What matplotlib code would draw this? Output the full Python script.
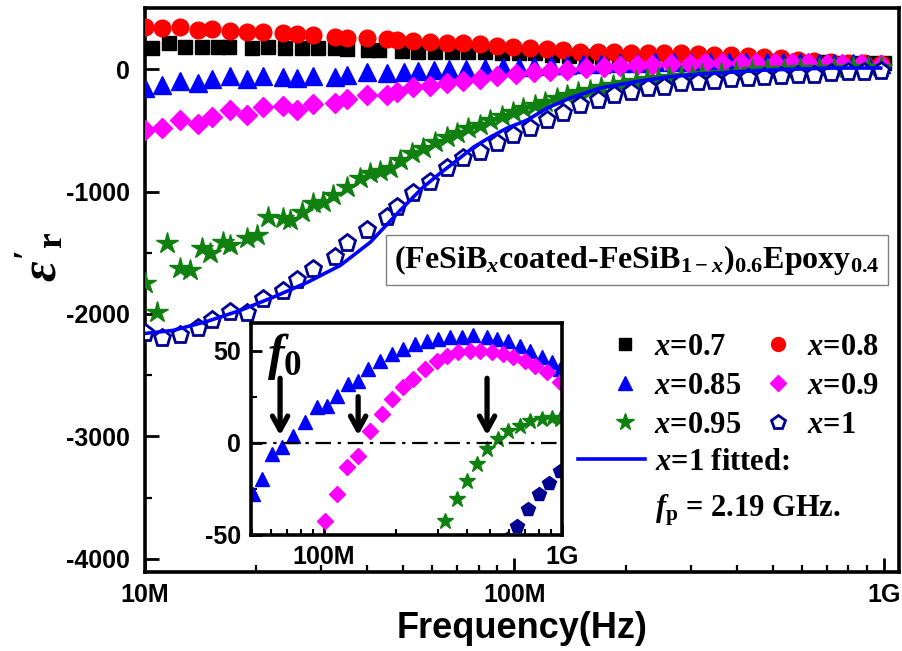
import matplotlib
matplotlib.use("Agg")
import matplotlib.pyplot as plt
from matplotlib.lines import Line2D
from matplotlib.ticker import LogLocator, NullFormatter, MultipleLocator

plt.rcParams['font.family'] = ['Liberation Sans', 'DejaVu Sans']
plt.rcParams['font.weight'] = 'bold'
plt.rcParams['axes.unicode_minus'] = False
plt.rcParams['mathtext.fontset'] = 'custom'
plt.rcParams['mathtext.rm'] = 'Liberation Serif:bold'
plt.rcParams['mathtext.it'] = 'Liberation Serif:italic:bold'
plt.rcParams['mathtext.bf'] = 'Liberation Serif:bold'

# ---- data (frequency in MHz, real permittivity) ----
freq_g1 = [10.0, 11.1, 12.4, 13.9, 15.2, 17.0, 18.9, 20.9, 23.7, 25.8, 28.5, 32.7, 35.3, 40.0, 45.3,
           48.2, 53.2, 59.2, 65.8, 72.7, 80.9, 89.9, 99.4, 110.5, 122.9, 135.8, 151.0, 167.9, 185.5,
           206.3, 229.4, 253.4, 281.8, 313.3, 346.2, 384.9, 428.0, 473.0, 525.9, 584.8, 646.2, 718.5,
           798.9, 882.8, 981.5]

freq_07 = [10.45, 11.62, 12.84, 14.27, 15.78, 16.89, 19.49, 21.54, 23.9, 26.6, 29.4, 32.7, 35.3, 40.2,
           43.1, 49.7, 55.0, 61.0, 67.9, 75.0, 83.3, 92.5, 102.6, 113.9, 126.5, 140.3, 155.8, 173.0,
           191.9, 213.0, 236.5, 262.3, 291.2, 323.3, 358.8, 398.3, 442.2, 490.5, 544.5, 604.5, 670.8,
           744.6, 826.6, 917.1, 1000.0]
eps_07 = [172, 213, 180, 180, 180, 180, 172, 180, 172, 172, 172, 172, 164, 155, 155, 147, 139, 139,
          139, 139, 139, 131, 131, 127, 114, 106, 106, 98, 98, 90, 90, 82, 82, 74, 74, 65, 65, 65, 57,
          57, 57, 49, 49, 49, 49]

freq_08 = freq_g1
eps_08 = [343, 335, 343, 319, 327, 311, 303, 303, 294, 286, 278, 262, 253, 253, 245, 237, 229, 221,
          213, 213, 204, 188, 180, 172, 164, 155, 139, 139, 139, 131, 131, 131, 131, 123, 114, 114,
          106, 98, 90, 74, 65, 57, 49, 49, 41]

freq_085 = freq_g1[:15] + [50.4, 54.9, 60.5, 66.6, 74.1, 83.2, 93.4, 103, 113, 126, 139, 153, 172,
                           193, 215, 241, 271, 301, 338, 380, 423, 484, 533, 593, 667, 734, 824,
                           908, 982]
eps_085 = [-155, -131, -98, -114, -82, -57, -82, -57, -65, -74, -57, -65, -49, -25, -33,
           -27.7, -19.6, -6.0, -2.2, 3.8, 11.4, 19.6, 20.1, 25.5, 32.1, 33.7, 40.2, 44.6, 48.4,
           51.1, 53.8, 55.4, 56.5, 57.6, 57.6, 58.2, 57.6, 56.5, 55.4, 52.7, 50.0, 46.7, 44.0, 40.2]

freq_09 = freq_g1[:22] + [101, 113, 125, 139, 156, 175, 193, 215, 236, 266, 298, 328, 365, 410,
                          451, 508, 565, 623, 700, 769, 866, 982]
eps_09 = [-499, -482, -417, -450, -392, -335, -376, -311, -303, -335, -286, -278, -245, -213,
          -213, -188, -147, -139, -114, -100, -80, -60,
          -42.4, -27.7, -13.0, -7.1, 6.5, 15.8, 23.9, 30.4, 34.8, 40.2, 44.6, 47.3, 49.5, 50.0,
          50.0, 49.5, 48.4, 46.7, 44.6, 41.8, 38.6, 33.2]

freq_095 = [10.0, 10.8, 11.5, 12.4, 13.2, 14.3, 15.0, 16.3, 17.0, 18.9, 20.1, 21.5, 23.7, 24.7,
            26.6, 28.5, 30.4, 32.3, 35.3, 38.2, 40.7, 43.3, 46.1, 49.1, 52.9, 56.7, 61.1, 65.8,
            70.1, 75.0, 80.9, 86.1, 92.8, 99.4, 105.8, 114.0, 121.3, 130.8, 139.2, 149.1, 160.7,
            172.1, 184.4, 197.4, 212.8, 227.9, 244.1, 261.5, 281.8, 301.9, 322, 362, 399, 440,
            484, 538, 593, 667, 734, 824, 908, 982]
eps_095 = [-1750, -1987, -1423, -1627, -1643, -1464, -1504, -1415, -1439, -1382, -1357, -1210,
           -1218, -1235, -1169, -1096, -1087, -1030, -965, -891, -850, -830, -809, -744, -687,
           -646, -597, -556, -523, -482, -458, -417, -384, -352, -319, -294, -270, -237, -213,
           -190, -168, -148, -130, -113, -98, -84, -74, -66, -60, -56, -42.4, -30.4, -20.7,
           -11.4, -3.3, 2.2, 6.5, 9.2, 12.0, 13.0, 13.6, 13.0]

freq_1 = freq_g1
eps_1 = [-2159, -2200, -2175, -2118, -2052, -1987, -1995, -1876, -1815, -1725, -1635, -1537,
         -1423, -1316, -1210, -1125, -1014, -924, -809, -728, -679, -605, -540, -482, -417, -360,
         -294, -253, -213, -188, -155, -147, -114, -106, -95, -85, -75, -68, -60, -52, -45, -36,
         -28, -22, -15.2]

fit_mhz = [10.0, 11.9, 14.7, 18.1, 22.2, 27.5, 33.8, 40.7, 49.1, 56.6, 63.0, 70.0, 77.5, 86.0,
           95.6, 108.3, 122.7, 141.5, 170.8, 210.2, 259.5, 319.4, 393.0, 483.5, 594.6, 731.7, 981.2]
fit_eps = [-2159, -2134, -2061, -1971, -1864, -1742, -1603, -1415, -1153, -965, -850, -744, -638,
           -556, -482, -417, -319, -237, -155, -106, -65, -41, -25, -8, 0, 8, 8]

f0_mhz = [65.3, 139, 484]
f0_arrow_top = [35, 25, 35]

def hz(v):
    return [x * 1e6 for x in v]

fig = plt.figure(figsize=(9.02, 6.51), dpi=100)
ax = fig.add_axes([0.1608, 0.1214, 0.8359, 0.8663])

navy = '#000090'
green = '#108010'
ax.plot(hz(freq_07), eps_07, 's', color='k', ms=10.5, zorder=3)
ax.plot(hz(freq_08), eps_08, 'o', color='#ff0000', ms=12, zorder=3)
ax.plot(hz(freq_085), eps_085, '^', color='#0000ff', ms=12.5, zorder=3)
ax.plot(hz(freq_09), eps_09, 'D', color='#ff00ff', ms=10.5, zorder=3)
ax.plot(hz(freq_095), eps_095, '*', color=green, ms=16, zorder=3)
ax.plot(hz(freq_1), eps_1, 'p', color=navy, mfc='white', mew=2, ms=12.5, zorder=3)
ax.plot(hz(fit_mhz), fit_eps, '-', color='#0000ff', lw=2.6, zorder=4)

ax.set_xscale('log')
ax.set_xlim(1e7, 1.1e9)
ax.set_ylim(-4106, 498)
ax.set_xticks([1e7, 1e8, 1e9], ['10M', '100M', '1G'])
ax.xaxis.set_minor_locator(LogLocator(base=10, subs=range(2, 10)))
ax.xaxis.set_minor_formatter(NullFormatter())
ax.set_yticks([0, -1000, -2000, -3000, -4000], ['0', '-1000', '-2000', '-3000', '-4000'])
ax.yaxis.set_minor_locator(MultipleLocator(500))
ax.tick_params(which='both', direction='in', top=False, right=False)
ax.tick_params(which='major', length=10, width=2, labelsize=18, pad=11)
ax.tick_params(axis='x', which='major', pad=8)
ax.tick_params(which='minor', length=5, width=1.6)
for s in ax.spines.values():
    s.set_linewidth(2.6)

ax.set_xlabel('Frequency(Hz)', fontsize=26, fontweight='bold')
ax.xaxis.set_label_coords(0.5, -0.07)
ax.set_ylabel(r"$\varepsilon'_{\mathrm{r}}$", fontsize=36)
ax.yaxis.set_label_coords(-0.105, 0.56)

# title box
fig.text(637 / 902, 1 - 260 / 651,
         r"(FeSiB$_{x}$coated-FeSiB$_{1-x}$)$_{0.6}$Epoxy$_{0.4}$",
         family='Liberation Serif', fontsize=23, fontweight='bold', ha='center', va='center',
         bbox=dict(boxstyle='square,pad=0.25', fc='white', ec='#808080', lw=1))

# legends
lfont = dict(family='Liberation Serif', weight='bold', size=22)
h = [Line2D([], [], ls='none', marker='s', color='k', ms=8),
     Line2D([], [], ls='none', marker='^', color='#0000ff', ms=10),
     Line2D([], [], ls='none', marker='*', color=green, ms=13),
     Line2D([], [], ls='none', marker='o', color='#ff0000', ms=10),
     Line2D([], [], ls='none', marker='D', color='#ff00ff', ms=8),
     Line2D([], [], ls='none', marker='p', color=navy, mfc='white', mew=2, ms=10)]
labs = [r'$x$=0.7', r'$x$=0.85', r'$x$=0.95', r'$x$=0.8', r'$x$=0.9', r'$x$=1']
fig.legend(h, labs, ncol=2, frameon=False, prop=lfont, loc='upper left',
           bbox_to_anchor=(610 / 902, 1 - 333 / 651), borderpad=0, borderaxespad=0,
           handlelength=1.0, handletextpad=0.45, columnspacing=0.7, labelspacing=0.33)
fig.legend([Line2D([], [], color='#0000ff', lw=2.6)], [r'$x$=1 fitted:'], frameon=False,
           prop=lfont, loc='upper left', bbox_to_anchor=(578 / 902, 1 - 448 / 651), borderpad=0,
           borderaxespad=0, handlelength=2.2, handletextpad=0.33)
fig.text(655 / 902, 1 - 510 / 651, r'$f_{\mathrm{p}}$ = 2.19 GHz.', family='Liberation Serif',
         fontsize=22, fontweight='bold', ha='left', va='center')

# inset
axi = fig.add_axes([0.2783, 0.1782, 0.3448, 0.3257])
axi.set_facecolor('white')
axi.plot(hz(freq_085), eps_085, '^', color='#0000ff', ms=10)
axi.plot(hz(freq_09), eps_09, 'D', color='#ff00ff', ms=8)
axi.plot(hz(freq_095), eps_095, '*', color=green, ms=12)
axi.plot(hz(freq_1), eps_1, 'p', color=navy, ms=10.5)
axi.axhline(0, color='k', lw=1.6, ls=(0, (7, 3, 1.5, 3)))
for f, top in zip(f0_mhz, f0_arrow_top):
    axi.annotate('', xy=(f * 1e6, 4.0), xytext=(f * 1e6, top),
                 arrowprops=dict(arrowstyle='->,head_length=1.0,head_width=0.55', lw=3.8,
                                 color='k', shrinkA=0, shrinkB=0))
axi.text(0.05, 0.84, r'$f_0$', transform=axi.transAxes, fontsize=36, ha='left', va='center')
axi.set_xscale('log')
axi.set_xlim(4.93e7, 1.0e9)
axi.set_ylim(-50, 65)
axi.set_xticks([1e8, 1e9], ['100M', '1G'])
axi.xaxis.set_minor_locator(LogLocator(base=10, subs=range(2, 10)))
axi.xaxis.set_minor_formatter(NullFormatter())
axi.set_yticks([50, 0, -50], ['50', '0', '-50'])
axi.yaxis.set_minor_locator(MultipleLocator(25))
axi.tick_params(which='both', direction='in', top=False, right=False)
axi.tick_params(which='major', length=8, width=2, labelsize=18, pad=7)
axi.tick_params(which='minor', length=4, width=1.5)
for s in axi.spines.values():
    s.set_linewidth(2.6)

fig.savefig('out.png', dpi=100)
